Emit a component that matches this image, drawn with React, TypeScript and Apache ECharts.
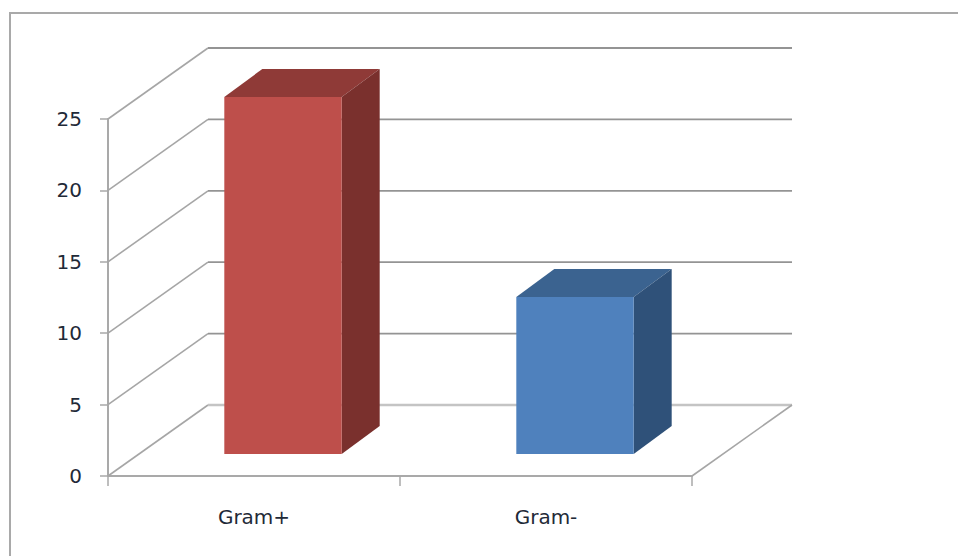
import React, { useEffect, useRef } from "react";
import * as echarts from "echarts";

const categories = ["Gram+", "Gram-"];
const counts = [25, 11];
const yTicks = [0, 5, 10, 15, 20, 25];

const FACE_COLORS = [
  { front: "#BE4F4B", top: "#8F3A37", side: "#7A302D" },
  { front: "#4F81BD", top: "#3B6390", side: "#2F5179" },
];

// Oblique projection of the chart box and of the columns standing inside it.
const WALL_DX = 100;
const WALL_DY = 71;
const COLUMN_DX = 38;
const COLUMN_DY = 28;
const COLUMN_OFFSET_X = 29;
const COLUMN_OFFSET_Y = 22;
const COLUMN_RATIO = 0.402;

const AXIS_COLOR = "#a9a9a9";

function renderWall(params: any, api: any) {
  const v = api.value(0);
  const box = params.coordSys;
  const y = api.coord([0, v])[1];
  const left = box.x;
  const right = box.x + box.width;
  const children: any[] = [
    {
      type: "line",
      shape: { x1: left, y1: y, x2: left + WALL_DX, y2: y - WALL_DY },
      style: { stroke: "#a6a6a6", lineWidth: 1.6 },
    },
    {
      type: "line",
      shape: { x1: left + WALL_DX, y1: y - WALL_DY, x2: right + WALL_DX, y2: y - WALL_DY },
      style: { stroke: v === 0 ? "#c4c4c4" : "#949494", lineWidth: v === 0 ? 2.5 : 1.8 },
    },
  ];
  if (v === 0) {
    children.push({
      type: "line",
      shape: { x1: right, y1: y, x2: right + WALL_DX, y2: y - WALL_DY },
      style: { stroke: "#a6a6a6", lineWidth: 1.6 },
    });
  }
  return { type: "group", children };
}

function renderColumn(params: any, api: any) {
  const cat = api.value(0);
  const val = api.value(1);
  const base = api.coord([cat, 0]);
  const head = api.coord([cat, val]);
  const width = api.size([1, 0])[0] * COLUMN_RATIO;
  const x0 = base[0] + COLUMN_OFFSET_X - width / 2;
  const x1 = x0 + width;
  const yb = base[1] - COLUMN_OFFSET_Y;
  const yt = head[1] - COLUMN_OFFSET_Y;
  const faces = FACE_COLORS[params.dataIndex];
  return {
    type: "group",
    children: [
      {
        type: "polygon",
        shape: {
          points: [
            [x0, yt],
            [x0 + COLUMN_DX, yt - COLUMN_DY],
            [x1 + COLUMN_DX, yt - COLUMN_DY],
            [x1, yt],
          ],
        },
        style: { fill: faces.top },
      },
      {
        type: "polygon",
        shape: {
          points: [
            [x1, yt],
            [x1 + COLUMN_DX, yt - COLUMN_DY],
            [x1 + COLUMN_DX, yb - COLUMN_DY],
            [x1, yb],
          ],
        },
        style: { fill: faces.side },
      },
      {
        type: "rect",
        shape: { x: x0, y: yt, width, height: yb - yt },
        style: { fill: faces.front },
      },
    ],
  };
}

export default function App() {
  const ref = useRef<HTMLDivElement>(null);

  useEffect(() => {
    const chart = echarts.init(ref.current!, null, { renderer: "svg" });
    chart.setOption({
      animation: false,
      backgroundColor: "#ffffff",
      textStyle: { fontFamily: "'DejaVu Sans', sans-serif" },
      grid: { left: 108, right: 266, top: 119, bottom: 80 },
      xAxis: {
        type: "category",
        data: categories,
        boundaryGap: true,
        axisLine: { lineStyle: { color: AXIS_COLOR, width: 2 } },
        axisTick: { show: true, length: 10, alignWithLabel: false, lineStyle: { color: AXIS_COLOR, width: 1.5 } },
        axisLabel: { margin: 31, fontSize: 20, color: "#1f2a38" },
        splitLine: { show: false },
      },
      yAxis: {
        type: "value",
        min: 0,
        max: 25,
        interval: 5,
        axisLine: { show: true, lineStyle: { color: AXIS_COLOR, width: 2 } },
        axisTick: { show: true, length: 8, lineStyle: { color: AXIS_COLOR, width: 1.5 } },
        axisLabel: {
          margin: 26,
          fontSize: 20,
          color: "#1f2a38",
          formatter: (v: number) => (yTicks.includes(v) ? String(v) : ""),
        },
        splitLine: { show: false },
      },
      series: [
        {
          type: "custom",
          coordinateSystem: "cartesian2d",
          renderItem: renderWall,
          data: yTicks.map((t) => [t]),
          encode: { y: 0 },
          silent: true,
          clip: false,
          z: 1,
        },
        {
          type: "custom",
          coordinateSystem: "cartesian2d",
          renderItem: renderColumn,
          data: counts.map((v, i) => [i, v]),
          encode: { x: 0, y: 1 },
          silent: true,
          clip: false,
          z: 3,
        },
      ],
      graphic: [
        {
          type: "polyline",
          shape: { points: [[10, 556], [10, 13], [958, 13]] },
          style: { stroke: "#a9a9a9", lineWidth: 2, fill: "none" },
          silent: true,
        },
      ],
    });
    return () => chart.dispose();
  }, []);

  return <div ref={ref} style={{ position: "absolute", left: 0, top: 0, width: 958, height: 556 }} />;
}
